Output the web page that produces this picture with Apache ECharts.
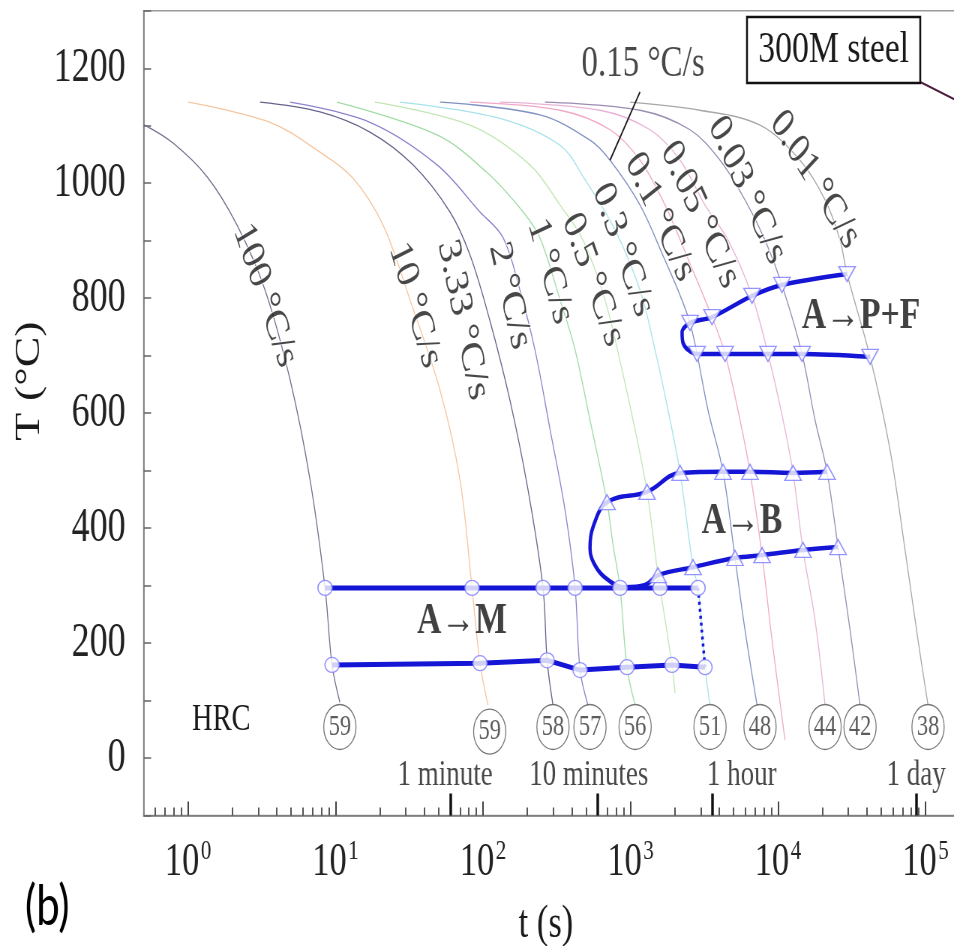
<!DOCTYPE html>
<html>
<head>
<meta charset="utf-8">
<title>300M steel CCT diagram</title>
<script src="https://cdn.jsdelivr.net/npm/echarts@6.0.0/dist/echarts.min.js"></script>
<style>
  html, body { margin: 0; padding: 0; width: 954px; height: 946px; overflow: hidden; background: #fff; }
  /* the figure is laid out wide and condensed horizontally, like the printed original */
  #chart { width: 1272px; height: 946px; transform: scaleX(0.75); transform-origin: 0 0; }
</style>
</head>
<body>
<div id="chart"></div>
<script>
// ---------- cooling paths: [time (s), temperature (°C)] ----------
const cool100  = [[0.5,1102],[0.791,1070],[1.35,1011],[2.15,927],[3.33,814],[4.92,658],[6.72,484],[8.49,296],[9.47,162],[10.7,97]];
const cool10   = [[1.0,1141],[3.6,1106],[7.85,1054],[13.1,1009],[21.0,927],[32.0,797],[51.1,640],[69.8,484],[84.2,296],[95.4,165],[108,92]];
const cool3p33 = [[3.08,1141],[7.85,1124],[17.1,1089],[33.5,1032],[59.7,950],[81.6,875],[111,762],[152,623],[202,466],[255,296],[272,170],[298,92]];
const cool2    = [[4.92,1141],[17.1,1106],[48.8,1032],[95.4,950],[137,905],[178,814],[225,710],[285,571],[360,431],[421,296],[455,153],[515,92]];
const cool1    = [[10.2,1141],[48.8,1084],[106,1019],[187,950],[243,905],[333,797],[421,710],[531,588],[693,445],[761,371],[849,296],[946,158],[1074,92]];
const cool0p5  = [[18.5,1141],[81.6,1101],[208,1032],[333,962],[476,901],[672,797],[876,675],[1074,571],[1294,463],[1535,318],[1585,296],[1910,162],[2003,113]];
const cool0p3  = [[27.4,1141],[130,1113],[333,1066],[492,1006],[785,919],[1160,814],[1466,710],[1796,605],[2168,496],[2653,332],[2870,296],[3201,158],[3459,92]];
const cool0p15 = [[51.1,1141],[243,1119],[531,1075],[726,1040],[1160,962],[1714,866],[2168,805],[2531,757],[2825,703],[3353,605],[4238,498],[5109,348],[5970,223],[7210,92]];
const cool0p1  = [[81.6,1141],[333,1127],[726,1093],[1160,1040],[1714,962],[2531,860],[3569,767],[4375,703],[5523,588],[6453,498],[7793,353],[9106,205],[11150,31]];
const cool0p05 = [[130,1141],[621,1127],[1356,1093],[2168,1040],[3201,962],[4583,901],[6663,804],[8551,703],[10640,597],[12640,496],[14770,362],[17820,240],[20840,92]];
const cool0p03 = [[263,1141],[1160,1127],[2531,1093],[4045,1040],[5970,971],[8166,901],[10640,823],[14550,703],[17820,588],[21490,498],[25520,367],[30780,223],[35970,92]];
const cool0p01 = [[993,1141],[2958,1127],[7550,1101],[14100,1040],[20840,971],[26320,901],[29380,842],[42070,698],[57460,536],[72650,362],[88950,205],[104000,92]];

const rateNames = ['100 °C/s','10 °C/s','3.33 °C/s','2 °C/s','1 °C/s','0.5 °C/s','0.3 °C/s','0.15 °C/s','0.1 °C/s','0.05 °C/s','0.03 °C/s','0.01 °C/s'];

// ---------- martensite start / finish ----------
const msTime = [8.49, 84.2, 255, 421, 849, 1585, 2870];
const msTemp = [296, 296, 296, 296, 296, 296, 296];
const mfTime = [9.47, 95.4, 272, 455, 946, 1910, 3201];
const mfTemp = [162, 165, 170, 153, 158, 162, 158];

// ---------- bainite start / finish ----------
const bsTime = [693, 1294, 2168, 4238, 6453, 12640, 21490];
const bsTemp = [445, 463, 496, 498, 498, 496, 498];
const bfTime = [1535, 2653, 5109, 7793, 14770, 25520];
const bfTemp = [318, 332, 348, 353, 362, 367];
const bNoseTime = [557, 531, 584, 703, 918, 1254];
const bNoseTemp = [402, 365, 332, 310, 297, 301];

// ---------- pearlite + ferrite start / finish ----------
const psTime = [2531, 3569, 6663, 10640, 29380];
const psTemp = [757, 767, 804, 823, 842];
const pfTime = [2825, 4375, 8551, 14550, 42070];
const pfTemp = [703, 703, 703, 703, 698];
const pNoseTime = [2236, 2270, 2455];
const pNoseTemp = [741, 722, 710];

// ---------- final hardness ----------
const hrcTime  = [10.7, 111, 298, 531, 1074, 3459, 7550, 20840, 35970, 104000];
const hrcTemp  = [54, 46, 54, 54, 54, 54, 54, 54, 54, 54];
const hrcValue = [59, 59, 58, 57, 56, 51, 48, 44, 42, 38];

// ---------- axis marks ----------
const decadeTicks = [1, 10, 100, 1000, 10000, 100000];
const yLabelValues = [0, 200, 400, 600, 800, 1000, 1200];
const timeMarks = [60, 600, 3600, 86400];
const timeMarkNames = ['1 minute', '10 minutes', '1 hour', '1 day'];

// ---------- presentation ----------
const SERIF = '"Liberation Serif", "Times New Roman", serif';
const BLUE = '#1515d6';
const INK = '#1a1a1a';
const rateColors = ['#707090','#f5c6a0','#64648a','#8c82cc','#a0dba4','#c2e6b4','#a6e2ec','#8090c0','#f2a8c8','#e8b4d6','#9a8cb2','#a8a8a8'];
// label anchors [time, temp] and rotation of each rate label
const rateLabelAt = [[3.33,805],[34.6,788],[73.2,762],[152,804],[285,847],[557,832],[889,884],[1216,1206],[1585,941],[2958,945],[6166,988],[17820,1006]];
const rateLabelRot = [-65.8,-69.1,-74.7,-73.4,-70.3,-64.9,-65.4,0,-59.1,-58.8,-59.3,-51.3];
const timeMarkShift = [-7, -12, 39, 0];

const zip = (a, b) => a.map((v, i) => [v, b[i]]);
// 2..9 subdivisions of every decade on the time axis
const minorTicks = [];
for (let e = -1; e < 6; e++) {
  for (let m = 2; m <= 9; m++) {
    const v = m * Math.pow(10, e);
    if (v > 0.5) minorTicks.push(v);
  }
}

const coolingCurves = [cool100, cool10, cool3p33, cool2, cool1, cool0p5, cool0p3, cool0p15, cool0p1, cool0p05, cool0p03, cool0p01];

const series = [];

coolingCurves.forEach((pts, i) => {
  series.push({
    name: rateNames[i], type: 'line', data: pts, smooth: 0.35,
    symbol: 'none', silent: true, z: 2,
    lineStyle: { color: rateColors[i], width: 1.3 }
  });
});

// transformation boundaries
series.push({ type: 'line', data: zip(msTime, msTemp), symbol: 'none', silent: true, z: 5, lineStyle: { color: BLUE, width: 5 } });
series.push({ type: 'line', data: zip(mfTime, mfTemp), symbol: 'none', silent: true, z: 5, lineStyle: { color: BLUE, width: 5 } });
series.push({ type: 'line', data: [[msTime[msTime.length - 1], msTemp[msTemp.length - 1]], [mfTime[mfTime.length - 1], mfTemp[mfTemp.length - 1]]],
  symbol: 'none', silent: true, z: 5, lineStyle: { color: BLUE, width: 3.5, type: [3, 4] } });

const bainitePath = zip(bsTime, bsTemp).reverse().concat(zip(bNoseTime, bNoseTemp), zip(bfTime, bfTemp));
series.push({ type: 'line', data: bainitePath, smooth: 0.4, symbol: 'none', silent: true, z: 5, lineStyle: { color: BLUE, width: 4.5 } });

const pearlitePath = zip(psTime, psTemp).reverse().concat(zip(pNoseTime, pNoseTemp), zip(pfTime, pfTemp));
series.push({ type: 'line', data: pearlitePath, smooth: 0.3, symbol: 'none', silent: true, z: 5, lineStyle: { color: BLUE, width: 4.5 } });

// markers
const markerStyle = { color: '#ffffff', borderColor: '#7a7aff', borderWidth: 1.5 };
series.push({ type: 'scatter', data: zip(msTime, msTemp).concat(zip(mfTime, mfTemp)), symbol: 'circle', symbolSize: [19, 15], itemStyle: markerStyle, silent: true, z: 8 });
series.push({ type: 'scatter', data: zip(bsTime, bsTemp).concat(zip(bfTime, bfTemp)), symbol: 'triangle', symbolSize: [22, 15], itemStyle: markerStyle, silent: true, z: 8 });
series.push({ type: 'scatter', data: zip(psTime, psTemp).concat(zip(pfTime, pfTemp)), symbol: 'triangle', symbolRotate: 180, symbolSize: [22, 15], itemStyle: markerStyle, silent: true, z: 8 });

// hardness circles
series.push({
  type: 'scatter', silent: true, z: 8,
  data: hrcTime.map((t, i) => ({ value: [t, hrcTemp[i]], name: String(hrcValue[i]) })),
  symbol: 'circle', symbolSize: [43, 45],
  itemStyle: { color: '#ffffff', borderColor: '#555', borderWidth: 1.3 },
  label: { show: true, position: 'inside', formatter: '{b}', fontFamily: SERIF, fontSize: 30, color: '#333' }
});

// leader from the 0.15 °C/s label to its curve
series.push({ type: 'line', data: [[1160, 1159], [726, 1040]], symbol: 'none', silent: true, z: 6, lineStyle: { color: INK, width: 1.8 } });

const hidden = { color: 'rgba(0,0,0,0)' };

// cooling-rate labels
series.push({
  type: 'scatter', silent: true, z: 10, symbolSize: 1, itemStyle: hidden,
  data: rateNames.map((n, i) => ({ value: rateLabelAt[i], name: n, label: { rotate: rateLabelRot[i] } })),
  label: { show: true, position: 'inside', formatter: '{b}', fontFamily: SERIF, fontSize: 44, color: INK,
           textBorderColor: '#ffffff', textBorderWidth: 2 }
});

// region labels
series.push({
  type: 'scatter', silent: true, z: 10, symbolSize: 1, itemStyle: hidden,
  data: [
    { value: [72.1, 237], name: 'A→M' },
    { value: [5700, 411], name: 'A→B' },
    { value: [36540, 769], name: 'A→P+F' }
  ],
  label: { show: true, position: 'inside', formatter: '{b}', fontFamily: SERIF, fontWeight: 'bold', fontSize: 45, color: '#111' }
});

// time reference labels
series.push({
  type: 'scatter', silent: true, z: 10, symbolSize: 1, itemStyle: hidden,
  data: timeMarks.map((t, i) => ({ value: [t, -31], name: timeMarkNames[i], label: { offset: [timeMarkShift[i], 0] } })),
  label: { show: true, position: 'inside', formatter: '{b}', fontFamily: SERIF, fontSize: 36, color: INK }
});

const logAxisBase = { type: 'log', logBase: 10, min: 0.5, max: 1e6, gridIndex: 0, position: 'bottom', splitLine: { show: false } };

const option = {
  animation: false,
  backgroundColor: '#ffffff',
  grid: {
    left: 191.5, top: 10.8, right: -158.7, bottom: 130.5,
    show: true, borderColor: '#9a9a9a', borderWidth: 1.5, backgroundColor: 'transparent',
    containLabel: false, outerBoundsMode: 'none'
  },
  xAxis: [
    Object.assign({}, logAxisBase, {
      axisLine: { show: true, onZero: false, lineStyle: { color: '#777', width: 1.5 } },
      axisTick: { show: true, inside: true, length: 14, customValues: decadeTicks, lineStyle: { color: '#444', width: 2 } },
      axisLabel: {
        show: true, margin: 22, customValues: decadeTicks,
        formatter: v => '{b|10}{s|' + Math.round(Math.log10(v)) + '}',
        rich: {
          b: { fontFamily: SERIF, fontSize: 46, color: '#222', lineHeight: 50 },
          s: { fontFamily: SERIF, fontSize: 28, color: '#222', lineHeight: 20, verticalAlign: 'top', padding: [0, 0, 0, 2] }
        }
      }
    }),
    Object.assign({}, logAxisBase, {
      axisLine: { show: false, onZero: false },
      axisTick: { show: true, inside: true, length: 8, customValues: minorTicks, lineStyle: { color: '#444', width: 1.8 } },
      axisLabel: { show: false }
    }),
    Object.assign({}, logAxisBase, {
      axisLine: { show: false, onZero: false },
      axisTick: { show: true, inside: true, length: 22, customValues: timeMarks, lineStyle: { color: '#111', width: 3.5 } },
      axisLabel: { show: false }
    })
  ],
  yAxis: {
    type: 'value', min: -100, max: 1300, interval: 100,
    axisLine: { show: true, onZero: false, lineStyle: { color: '#777', width: 1.5 } },
    axisTick: { show: true, inside: true, length: 10, lineStyle: { color: '#666', width: 1.5 } },
    splitLine: { show: false },
    axisLabel: {
      margin: 24, fontFamily: SERIF, fontSize: 48, color: '#222',
      formatter: v => (yLabelValues.indexOf(v) >= 0 ? String(v) : '')
    }
  },
  graphic: [
    { type: 'text', x: 40, y: 381, rotation: Math.PI / 2, silent: true,
      style: { text: 'T (°C)', font: '46px ' + SERIF, fill: INK, align: 'center', verticalAlign: 'middle', textAlign: 'center', textVerticalAlign: 'middle' } },
    { type: 'text', x: 728, y: 925, silent: true,
      style: { text: 't (s)', font: '46px ' + SERIF, fill: INK, align: 'center', verticalAlign: 'middle', textAlign: 'center', textVerticalAlign: 'middle' } },
    { type: 'text', x: 63, y: 907, silent: true,
      style: { text: '(b)', font: '56px Lato, "Open Sans", sans-serif', fill: '#000', align: 'center', verticalAlign: 'middle', textAlign: 'center', textVerticalAlign: 'middle' } },
    { type: 'text', x: 295, y: 720, silent: true,
      style: { text: 'HRC', font: '38px ' + SERIF, fill: INK, align: 'center', verticalAlign: 'middle', textAlign: 'center', textVerticalAlign: 'middle' } },
    { type: 'line', silent: true, z: 20,
      shape: { x1: 1227, y1: 82, x2: 1290, y2: 106 },
      style: { stroke: '#4a1c3a', lineWidth: 2 } },
    { type: 'rect', silent: true, z: 20,
      shape: { x: 996, y: 17, width: 231, height: 66 },
      style: { fill: '#ffffff', stroke: '#111', lineWidth: 2.5 } },
    { type: 'text', x: 1111.5, y: 50, silent: true, z: 21,
      style: { text: '300M steel', font: '45px ' + SERIF, fill: INK, align: 'center', verticalAlign: 'middle', textAlign: 'center', textVerticalAlign: 'middle' } }
  ],
  series: series
};

const chart = echarts.init(document.getElementById('chart'), null, { renderer: 'canvas', width: 1272, height: 946 });
chart.setOption(option);
</script>
</body>
</html>
